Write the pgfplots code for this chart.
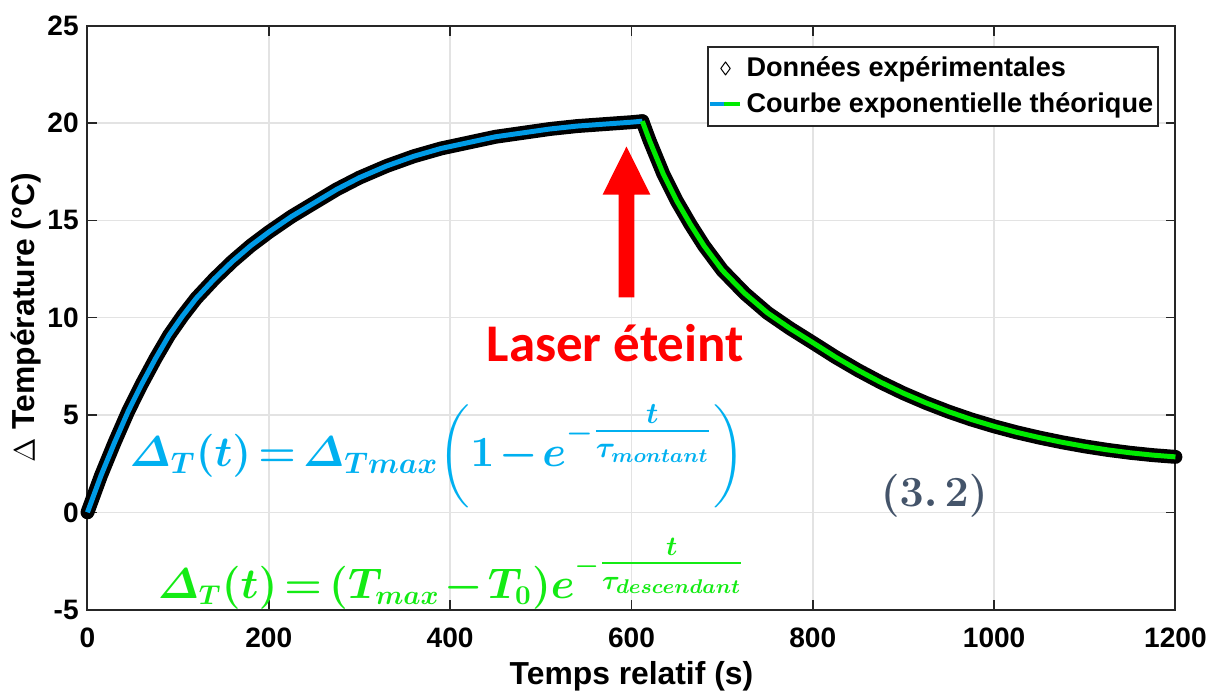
\documentclass[border=0pt]{standalone}
\usepackage[no-math]{fontspec}
\setmainfont{Liberation Sans}
\newfontfamily\carlito{Carlito}
\usepackage{amsmath,bm}
\usepackage{pgfplots}
\usepackage{pgfplotstable}
\pgfplotsset{compat=1.18}

\definecolor{cblue}{RGB}{0,155,230}
\definecolor{cgreen}{RGB}{0,235,0}
\definecolor{fblue}{RGB}{0,176,240}
\definecolor{fgreen}{RGB}{20,235,20}
\definecolor{eqgray}{RGB}{68,84,106}

% montee (laser allume)
\pgfplotstableread{
t dT
0 0.0
15 1.9
30 3.6
45 5.2
60 6.6
75 7.9
90 9.1
105 10.1
120 11.0
140 12.0
160 12.9
180 13.7
200 14.4
225 15.2
250 15.9
275 16.6
300 17.2
330 17.8
360 18.3
390 18.7
420 19.0
450 19.3
480 19.5
510 19.7
540 19.85
570 19.95
600 20.05
612 20.1
}\montant

% descente (laser eteint)
\pgfplotstableread{
t dT
612 20.1
620 19.1
635 17.4
650 16.0
665 14.8
680 13.7
700 12.45
725 11.25
750 10.25
775 9.45
800 8.72
825 7.98
850 7.30
875 6.68
900 6.12
925 5.62
950 5.17
975 4.77
1000 4.42
1025 4.11
1050 3.84
1075 3.60
1100 3.39
1125 3.21
1150 3.06
1175 2.94
1200 2.85
}\descente

\begin{document}
\begin{tikzpicture}
\begin{axis}[
    scale only axis,
    width=437.6pt, height=234.8pt,
    xmin=0, xmax=1200,
    ymin=-5, ymax=25,
    xtick={0,200,...,1200},
    ytick={-5,0,...,25},
    grid=major,
    grid style={gray!22, line width=0.6pt},
    axis line style={black!85, line width=0.8pt},
    tick align=inside,
    major tick length=4pt,
    tick style={black!85, line width=0.6pt},
    /pgf/number format/assume math mode=true,
    /pgf/number format/set thousands separator={},
    tick label style={font=\bfseries\fontsize{11.3}{13}\selectfont},
    xticklabel style={yshift=-4pt},
    xlabel={Temps relatif (s)},
    ylabel={$\Delta$ Température (°C)},
    label style={font=\bfseries\fontsize{12.8}{15}\selectfont, inner sep=0pt},
    xlabel style={at={(axis description cs:0.5,-0.115)}, anchor=center},
    ylabel style={at={(axis description cs:-0.056,0.5)}, anchor=center},
    legend cell align=left,
    legend style={at={(0.985,0.966)}, anchor=north east,
        draw=black!85, line width=0.8pt, fill=white,
        font=\bfseries\fontsize{10.9}{13}\selectfont,
        inner xsep=0pt, inner ysep=2pt, row sep=1pt},
    clip=false,
]
\path (rel axis cs:-0.0804,-0.1397) rectangle (rel axis cs:1.0302,1.0443);

% donnees experimentales (bande noire)
\addplot[black, line width=5.6pt, line join=round, line cap=round,
    legend image code/.code={
        \draw[black, line width=0.4pt] (0.22cm,-2.6pt) -- (0.22cm+1.9pt,0pt)
            -- (0.22cm,2.6pt) -- (0.22cm-1.9pt,0pt) -- cycle;}]
    table[x=t, y=dT] {\montant};
\addlegendentry{Données expérimentales}
\addplot[black, line width=5.6pt, line join=round, line cap=round, forget plot]
    table[x=t, y=dT] {\descente};

% courbes exponentielles theoriques
\addplot[cblue, line width=2pt,
    legend image code/.code={
        \draw[cblue, line width=1.6pt] (0cm,0cm) -- (0.2cm,0cm);
        \draw[cgreen, line width=1.6pt] (0.2cm,0cm) -- (0.42cm,0cm);}]
    table[x=t, y=dT] {\montant};
\addlegendentry{Courbe exponentielle théorique}
\addplot[cgreen, line width=2pt, forget plot]
    table[x=t, y=dT] {\descente};

% fleche laser eteint
\fill[red] (axis cs:585.7,11.05) -- (axis cs:585.7,16.33) -- (axis cs:568.2,16.33)
    -- (axis cs:594.5,18.8) -- (axis cs:620.8,16.33) -- (axis cs:603.3,16.33)
    -- (axis cs:603.3,11.05) -- cycle;
\node[text=red, inner sep=0pt, font=\carlito\bfseries\fontsize{21.3}{24}\selectfont]
    at (axis cs:582,8.7) {Laser éteint};

% equations
\node[anchor=west, text=fblue, font=\fontsize{16.4}{19}\selectfont, inner sep=0pt]
    at (axis cs:46,2.9)
    {\thickmuskip=3mu \medmuskip=2mu
     $\bm{\varDelta_T(t) = \varDelta_{Tmax}\biggl(1 - e^{-\tfrac{t}{\tau_{montant}}}\biggr)}$};
\node[anchor=west, text=fgreen, font=\fontsize{16.3}{19}\selectfont, inner sep=0pt]
    at (axis cs:77,-3.15)
    {\thickmuskip=3mu \medmuskip=2mu
     $\bm{\varDelta_T(t) = (T_{max} - T_0)e^{-\tfrac{t}{\tau_{descendant}}}}$};
\node[text=eqgray, font=\fontsize{17}{20}\selectfont]
    at (axis cs:934,0.85) {$\bm{(3.\,2)}$};
\end{axis}
\end{tikzpicture}
\end{document}
